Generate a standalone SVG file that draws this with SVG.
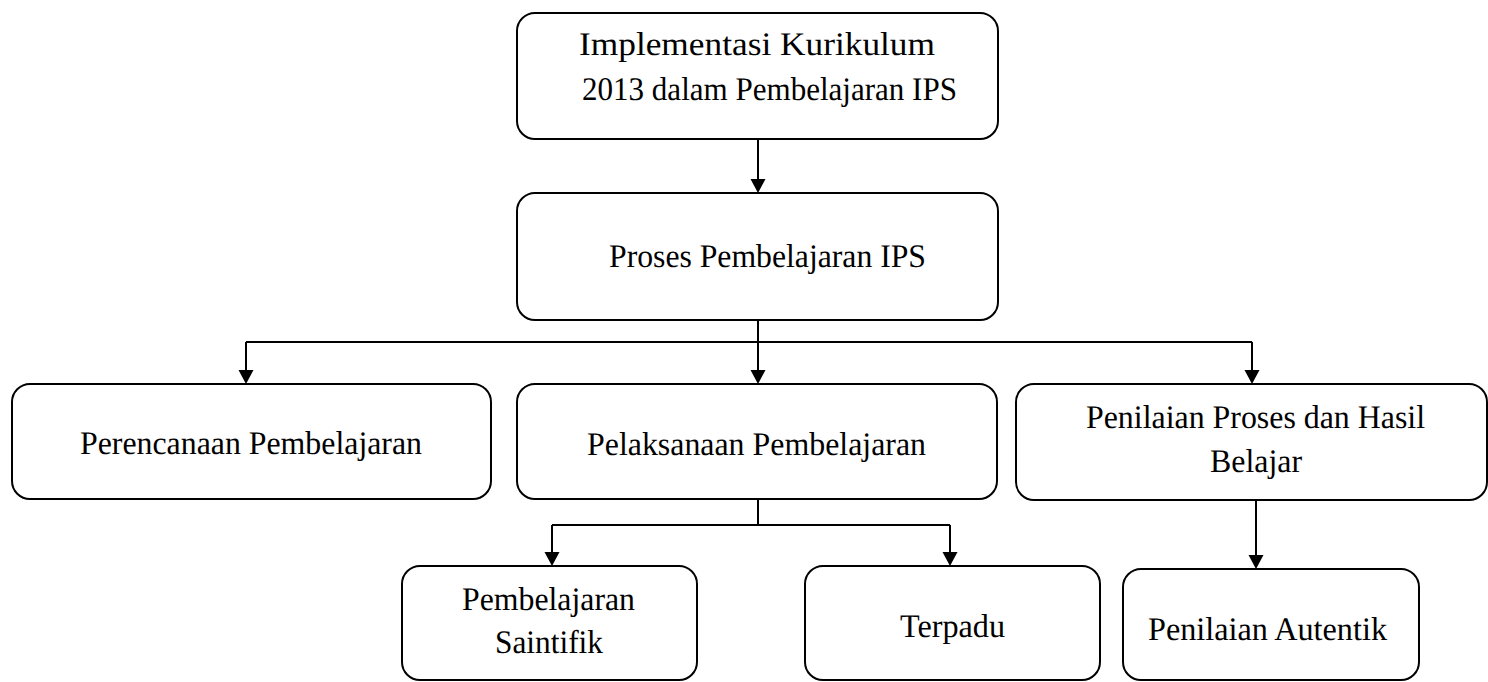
<svg xmlns="http://www.w3.org/2000/svg" width="1488" height="682" viewBox="0 0 1488 682">
<style>
.box{fill:#fff;stroke:#000;stroke-width:2}
.t{font-family:"Liberation Serif","Times New Roman",serif;font-size:33px;fill:#000;text-anchor:middle;text-rendering:geometricPrecision}
.c{fill:none;stroke:#000;stroke-width:2}
</style>
<defs>
<marker id="ah" markerUnits="userSpaceOnUse" markerWidth="15" markerHeight="17" refX="1" refY="8" orient="auto">
<path d="M0,0.5 L14,8 L0,15.5 z" fill="#000"/>
</marker>
</defs>
<rect width="1488" height="682" fill="#fff"/>
<g id="connectors">
<path class="c" d="M758,139 V180" marker-end="url(#ah)"/>
<path class="c" d="M758,320 V342 M246,342 H1252"/>
<path class="c" d="M246,342 V371" marker-end="url(#ah)"/>
<path class="c" d="M758,342 V371" marker-end="url(#ah)"/>
<path class="c" d="M1252,342 V371" marker-end="url(#ah)"/>
<path class="c" d="M758,499 V525 M552,525 H950"/>
<path class="c" d="M552,525 V553" marker-end="url(#ah)"/>
<path class="c" d="M950,525 V553" marker-end="url(#ah)"/>
<path class="c" d="M1256,500 V556" marker-end="url(#ah)"/>
</g>
<g id="n1">
<rect class="box" x="517" y="13" width="481" height="126" rx="18"/>
<text class="t" x="757" y="55" textLength="356" lengthAdjust="spacingAndGlyphs">Implementasi Kurikulum</text>
<text class="t" x="769.5" y="100" textLength="375" lengthAdjust="spacingAndGlyphs">2013 dalam Pembelajaran IPS</text>
</g>
<g id="n2">
<rect class="box" x="517" y="193" width="481" height="127" rx="18"/>
<text class="t" x="767.5" y="267" textLength="317" lengthAdjust="spacingAndGlyphs">Proses Pembelajaran IPS</text>
</g>
<g id="n3">
<rect class="box" x="12" y="384" width="479" height="115" rx="18"/>
<text class="t" x="251" y="454" textLength="342" lengthAdjust="spacingAndGlyphs">Perencanaan Pembelajaran</text>
</g>
<g id="n4">
<rect class="box" x="517" y="384" width="480" height="115" rx="18"/>
<text class="t" x="756.5" y="455" textLength="339" lengthAdjust="spacingAndGlyphs">Pelaksanaan Pembelajaran</text>
</g>
<g id="n5">
<rect class="box" x="1016" y="384" width="471" height="116" rx="18"/>
<text class="t" x="1255.5" y="428" textLength="339" lengthAdjust="spacingAndGlyphs">Penilaian Proses dan Hasil</text>
<text class="t" x="1256" y="472" textLength="92" lengthAdjust="spacingAndGlyphs">Belajar</text>
</g>
<g id="n6">
<rect class="box" x="402" y="566" width="295" height="114" rx="18"/>
<text class="t" x="548.5" y="610" textLength="173" lengthAdjust="spacingAndGlyphs">Pembelajaran</text>
<text class="t" x="549" y="653" textLength="108" lengthAdjust="spacingAndGlyphs">Saintifik</text>
</g>
<g id="n7">
<rect class="box" x="805" y="566" width="295" height="114" rx="18"/>
<text class="t" x="952.5" y="637" textLength="105" lengthAdjust="spacingAndGlyphs">Terpadu</text>
</g>
<g id="n8">
<rect class="box" x="1123" y="569" width="296" height="111" rx="18"/>
<text class="t" x="1267.5" y="640" textLength="239" lengthAdjust="spacingAndGlyphs">Penilaian Autentik</text>
</g>
</svg>
